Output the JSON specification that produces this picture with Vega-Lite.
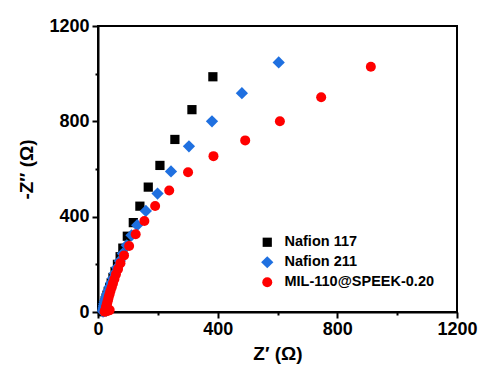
{
  "$schema": "https://vega.github.io/schema/vega-lite/v6.json",
  "width": 359,
  "height": 286,
  "autosize": "none",
  "padding": {"left": 98, "top": 26, "right": 23, "bottom": 55},
  "background": "white",
  "config": {
    "view": {"stroke": "black", "strokeWidth": 2},
    "font": "Liberation Sans"
  },
  "data": {
    "values": [
      {"s": "Nafion 117", "zr": 15, "zi": 1},
      {"s": "Nafion 117", "zr": 15, "zi": 4},
      {"s": "Nafion 117", "zr": 16, "zi": 8},
      {"s": "Nafion 117", "zr": 17, "zi": 14},
      {"s": "Nafion 117", "zr": 18, "zi": 20},
      {"s": "Nafion 117", "zr": 20, "zi": 28},
      {"s": "Nafion 117", "zr": 22, "zi": 36},
      {"s": "Nafion 117", "zr": 24, "zi": 46},
      {"s": "Nafion 117", "zr": 27, "zi": 57},
      {"s": "Nafion 117", "zr": 30, "zi": 70},
      {"s": "Nafion 117", "zr": 34, "zi": 85},
      {"s": "Nafion 117", "zr": 39, "zi": 102},
      {"s": "Nafion 117", "zr": 44, "zi": 122},
      {"s": "Nafion 117", "zr": 50, "zi": 145},
      {"s": "Nafion 117", "zr": 57, "zi": 170},
      {"s": "Nafion 117", "zr": 65, "zi": 200},
      {"s": "Nafion 117", "zr": 74, "zi": 232},
      {"s": "Nafion 117", "zr": 83, "zi": 268},
      {"s": "Nafion 117", "zr": 98, "zi": 318},
      {"s": "Nafion 117", "zr": 118, "zi": 375},
      {"s": "Nafion 117", "zr": 140, "zi": 444},
      {"s": "Nafion 117", "zr": 168, "zi": 524},
      {"s": "Nafion 117", "zr": 207, "zi": 615},
      {"s": "Nafion 117", "zr": 257, "zi": 724},
      {"s": "Nafion 117", "zr": 314, "zi": 849},
      {"s": "Nafion 117", "zr": 384, "zi": 987},
      {"s": "Nafion 211", "zr": 17, "zi": 2},
      {"s": "Nafion 211", "zr": 17, "zi": 7},
      {"s": "Nafion 211", "zr": 18, "zi": 13},
      {"s": "Nafion 211", "zr": 19, "zi": 20},
      {"s": "Nafion 211", "zr": 20, "zi": 27},
      {"s": "Nafion 211", "zr": 21, "zi": 35},
      {"s": "Nafion 211", "zr": 23, "zi": 44},
      {"s": "Nafion 211", "zr": 25, "zi": 54},
      {"s": "Nafion 211", "zr": 28, "zi": 65},
      {"s": "Nafion 211", "zr": 31, "zi": 77},
      {"s": "Nafion 211", "zr": 35, "zi": 91},
      {"s": "Nafion 211", "zr": 39, "zi": 106},
      {"s": "Nafion 211", "zr": 44, "zi": 123},
      {"s": "Nafion 211", "zr": 50, "zi": 142},
      {"s": "Nafion 211", "zr": 56, "zi": 163},
      {"s": "Nafion 211", "zr": 64, "zi": 187},
      {"s": "Nafion 211", "zr": 73, "zi": 214},
      {"s": "Nafion 211", "zr": 83, "zi": 245},
      {"s": "Nafion 211", "zr": 96, "zi": 280},
      {"s": "Nafion 211", "zr": 112, "zi": 322},
      {"s": "Nafion 211", "zr": 131, "zi": 364},
      {"s": "Nafion 211", "zr": 160, "zi": 424},
      {"s": "Nafion 211", "zr": 199, "zi": 497},
      {"s": "Nafion 211", "zr": 244, "zi": 590},
      {"s": "Nafion 211", "zr": 304, "zi": 695},
      {"s": "Nafion 211", "zr": 381, "zi": 800},
      {"s": "Nafion 211", "zr": 481, "zi": 918},
      {"s": "Nafion 211", "zr": 604, "zi": 1047},
      {"s": "MIL-110@SPEEK-0.20", "zr": 22, "zi": 1},
      {"s": "MIL-110@SPEEK-0.20", "zr": 28, "zi": 3},
      {"s": "MIL-110@SPEEK-0.20", "zr": 34, "zi": 5},
      {"s": "MIL-110@SPEEK-0.20", "zr": 39, "zi": 8},
      {"s": "MIL-110@SPEEK-0.20", "zr": 24, "zi": 4},
      {"s": "MIL-110@SPEEK-0.20", "zr": 25, "zi": 8},
      {"s": "MIL-110@SPEEK-0.20", "zr": 26, "zi": 13},
      {"s": "MIL-110@SPEEK-0.20", "zr": 27, "zi": 19},
      {"s": "MIL-110@SPEEK-0.20", "zr": 28, "zi": 26},
      {"s": "MIL-110@SPEEK-0.20", "zr": 30, "zi": 34},
      {"s": "MIL-110@SPEEK-0.20", "zr": 32, "zi": 43},
      {"s": "MIL-110@SPEEK-0.20", "zr": 34, "zi": 53},
      {"s": "MIL-110@SPEEK-0.20", "zr": 36, "zi": 64},
      {"s": "MIL-110@SPEEK-0.20", "zr": 39, "zi": 76},
      {"s": "MIL-110@SPEEK-0.20", "zr": 42, "zi": 89},
      {"s": "MIL-110@SPEEK-0.20", "zr": 46, "zi": 104},
      {"s": "MIL-110@SPEEK-0.20", "zr": 50, "zi": 120},
      {"s": "MIL-110@SPEEK-0.20", "zr": 55, "zi": 138},
      {"s": "MIL-110@SPEEK-0.20", "zr": 60, "zi": 158},
      {"s": "MIL-110@SPEEK-0.20", "zr": 67, "zi": 180},
      {"s": "MIL-110@SPEEK-0.20", "zr": 75, "zi": 205},
      {"s": "MIL-110@SPEEK-0.20", "zr": 87, "zi": 237},
      {"s": "MIL-110@SPEEK-0.20", "zr": 104, "zi": 277},
      {"s": "MIL-110@SPEEK-0.20", "zr": 126, "zi": 326},
      {"s": "MIL-110@SPEEK-0.20", "zr": 155, "zi": 382},
      {"s": "MIL-110@SPEEK-0.20", "zr": 191, "zi": 445},
      {"s": "MIL-110@SPEEK-0.20", "zr": 238, "zi": 510},
      {"s": "MIL-110@SPEEK-0.20", "zr": 301, "zi": 586},
      {"s": "MIL-110@SPEEK-0.20", "zr": 386, "zi": 654},
      {"s": "MIL-110@SPEEK-0.20", "zr": 492, "zi": 720},
      {"s": "MIL-110@SPEEK-0.20", "zr": 608, "zi": 800},
      {"s": "MIL-110@SPEEK-0.20", "zr": 746, "zi": 901},
      {"s": "MIL-110@SPEEK-0.20", "zr": 912, "zi": 1029}
    ]
  },
  "mark": {"type": "point", "filled": true, "opacity": 1},
  "encoding": {
    "x": {
      "field": "zr", "type": "quantitative",
      "scale": {"domain": [0, 1200], "nice": false},
      "axis": {
        "title": "Z′ (Ω)",
        "values": [0, 200, 400, 600, 800, 1000, 1200],
        "format": "d",
        "labelExpr": "datum.value % 400 === 0 ? datum.label : ''",
        "tickSize": {"condition": {"test": "datum.value % 400 === 0", "value": 6}, "value": 3},
        "grid": false,
        "domainColor": "black", "domainWidth": 2,
        "tickColor": "black", "tickWidth": 2,
        "labelFont": "Liberation Sans", "labelFontSize": 18, "labelFontWeight": "bold", "labelColor": "black",
        "labelPadding": 2, "labelFlush": false,
        "titleFont": "Liberation Sans", "titleFontSize": 19, "titleFontWeight": "bold", "titleColor": "black",
        "titlePadding": 6
      }
    },
    "y": {
      "field": "zi", "type": "quantitative",
      "scale": {"domain": [0, 1200], "nice": false},
      "axis": {
        "title": "-Z″ (Ω)",
        "values": [0, 200, 400, 600, 800, 1000, 1200],
        "format": "d",
        "labelExpr": "datum.value % 400 === 0 ? datum.label : ''",
        "tickSize": {"condition": {"test": "datum.value % 400 === 0", "value": 6}, "value": 3},
        "grid": false,
        "domainColor": "black", "domainWidth": 2,
        "tickColor": "black", "tickWidth": 2,
        "labelFont": "Liberation Sans", "labelFontSize": 18, "labelFontWeight": "bold", "labelColor": "black",
        "labelPadding": 3, "labelFlush": false,
        "titleFont": "Liberation Sans", "titleFontSize": 19, "titleFontWeight": "bold", "titleColor": "black",
        "titlePadding": 12
      }
    },
    "color": {
      "field": "s", "type": "nominal",
      "scale": {"domain": ["Nafion 117", "Nafion 211", "MIL-110@SPEEK-0.20"], "range": ["#000000", "#1f70e0", "#ff0000"]},
      "legend": {
        "title": null, "orient": "none", "legendX": 162, "legendY": 209,
        "labelFont": "Liberation Sans", "labelFontSize": 14.5, "labelFontWeight": "bold", "labelColor": "black",
        "symbolSize": 80, "rowPadding": 5, "labelOffset": 10
      }
    },
    "shape": {
      "field": "s", "type": "nominal",
      "scale": {"domain": ["Nafion 117", "Nafion 211", "MIL-110@SPEEK-0.20"], "range": ["square", "diamond", "circle"]},
      "legend": null
    },
    "size": {
      "field": "s", "type": "nominal",
      "scale": {"type": "ordinal", "domain": ["Nafion 117", "Nafion 211", "MIL-110@SPEEK-0.20"], "range": [85, 150, 100]},
      "legend": null
    }
  }
}
